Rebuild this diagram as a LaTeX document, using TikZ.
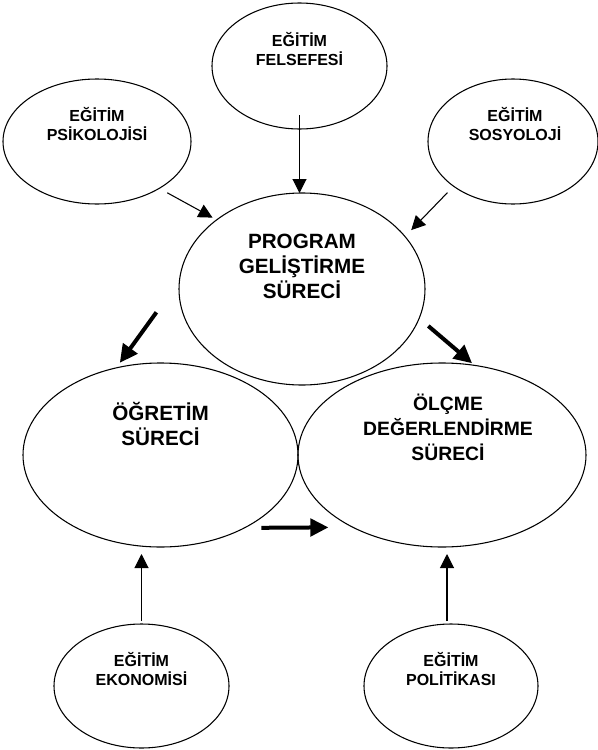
\documentclass[tikz,border=0pt]{standalone}
\usepackage{fontspec}
\setmainfont{Liberation Sans}
\usepackage{tikz}
\usetikzlibrary{arrows.meta, shapes.geometric}
\tikzset{
    enode/.style={ellipse, draw, line width=0.8pt, inner sep=0pt, outer sep=0pt},
    stext/.style={align=center, font=\fontsize{12}{14.25}\selectfont\bfseries},
    btext/.style={align=center, font=\fontsize{15.5}{18.75}\selectfont\bfseries},
    thinarr/.style={draw, line width=0.8pt, -{Triangle[length=10.5pt, width=10.5pt]}},
    thickarr/.style={draw, line width=3pt, -{Triangle[length=13.5pt, width=13pt]}},
}

\begin{document}
\begin{tikzpicture}[x=0.75pt, y=-0.75pt]
    \useasboundingbox (0,0) rectangle (598,750);

    % Top row
    \node[enode, minimum width=131.25pt, minimum height=94.5pt] (felsefe) at (299.5,66) {};
    \node[stext] (felsefetxt) at ([yshift=13.1pt]felsefe.center) {EĞİTİM\\FELSEFESİ};
    \node[enode, minimum width=141pt, minimum height=93.75pt] (psiko) at (97,141.5) {};
    \node[stext] (psikotxt) at ([yshift=12.75pt]psiko.center) {EĞİTİM\\PSİKOLOJİSİ};
    \node[enode, minimum width=127.5pt, minimum height=93.75pt] (sosyo) at (513,141.5) {};
    \node[stext] (sosyotxt) at ([xshift=1.5pt, yshift=12.75pt]sosyo.center) {EĞİTİM\\SOSYOLOJİ};

    % Program
    \node[enode, minimum width=184.5pt, minimum height=144pt] (program) at (302,289) {};
    \node[btext] (programtxt) at ([yshift=16.7pt]program.center) {PROGRAM\\GELİŞTİRME\\SÜRECİ};

    % Middle row
    \node[enode, minimum width=206.25pt, minimum height=138pt] (ogretim) at (160.5,455) {};
    \node[btext] (ogretimtxt) at ([yshift=23.6pt]ogretim.center) {ÖĞRETİM\\SÜRECİ};
    \node[enode, minimum width=216pt, minimum height=138pt] (olcme) at (442,455) {};
    \node[btext, font=\fontsize{14.5}{18.75}\selectfont\bfseries] (olcmetxt) at ([xshift=4.5pt, yshift=20.6pt]olcme.center) {ÖLÇME\\DEĞERLENDİRME\\SÜRECİ};

    % Bottom row
    \node[enode, minimum width=131.25pt, minimum height=93pt] (ekonomi) at (141.5,686) {};
    \node[stext] (ekonomitxt) at ([yshift=13.1pt]ekonomi.center) {EĞİTİM\\EKONOMİSİ};
    \node[enode, minimum width=130.5pt, minimum height=93pt] (politika) at (451,686) {};
    \node[stext] (politikatxt) at ([yshift=12.4pt]politika.center) {EĞİTİM\\POLİTİKASI};

    % Arrows into program
    \draw[thinarr] ([yshift=10.5pt]felsefe.south) -- (felsefe.south |- program.north);
    \draw[thinarr, shorten <=6.9pt, shorten >=3.5pt] (psiko.-37.2) -- (program.141.4);
    \draw[thinarr, shorten <=6.7pt, shorten >=6.7pt] (sosyo.217.6) -- (program.27.2);

    % Arrows out of program
    \draw[thickarr, shorten <=29.5pt, shorten >=4.7pt] (program.176.5) -- (ogretim.117.5);
    \draw[thickarr, shorten <=9pt, shorten >=2.5pt] (program.-14.5) -- (olcme.70.6);
    \draw[thickarr, shorten <=12.7pt, shorten >=18.3pt] (ogretim.-41.1) -- (olcme.219.8);

    % Arrows from below
    \draw[thinarr, shorten >=5.25pt] ([yshift=2.25pt]ekonomi.north) -- (ekonomi.north |- ogretim.south);
    \draw[thinarr, shorten >=5.25pt] ([xshift=-3pt, yshift=2.25pt]politika.north) -- ([xshift=-3pt]politika.north |- olcme.south);
\end{tikzpicture}
\end{document}
